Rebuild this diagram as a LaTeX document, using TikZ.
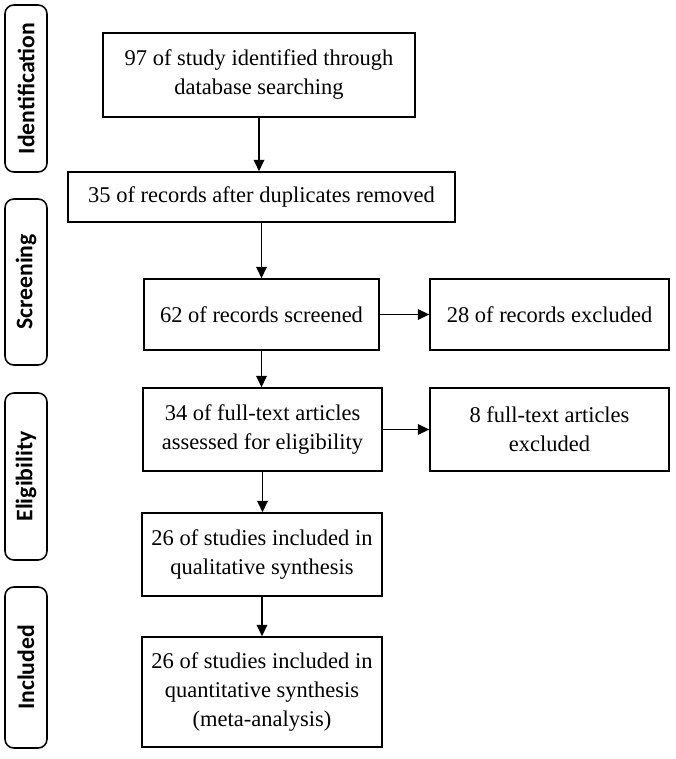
\documentclass[tikz,border=0pt]{standalone}
\usepackage{fontspec}
\setmainfont{Liberation Serif}
\newfontfamily\sidefont{Carlito}
\usetikzlibrary{arrows.meta, positioning}

\begin{document}
\begin{tikzpicture}[
  x=0.02cm, y=-0.02cm,
  box/.style={draw=black, line width=0.9pt, fill=white, align=center, inner sep=2pt,
    font=\fontsize{12.8}{16.5}\selectfont},
  phase/.style={draw=black, line width=0.9pt, rounded corners=5pt, minimum width=0.84cm,
    rotate=90, font=\sidefont\bfseries\fontsize{13.5}{15}\selectfont},
  arr/.style={-{Triangle[length=6.5pt, width=6pt]}, line width=1pt},
]
\useasboundingbox (0,0) rectangle (675,759);

% phases on the left
\node[phase, minimum width=3.34cm, minimum height=0.84cm] (ident) at (26,88.5) {Identification};
\node[phase, minimum width=3.32cm, minimum height=0.84cm] (screen) at (26,282) {Screening};
\node[phase, minimum width=3.34cm, minimum height=0.84cm] (elig) at (26,476.5) {Eligibility};
\node[phase, minimum width=3.22cm, minimum height=0.84cm] (incl) at (26,667.5) {Included};

% main column
\node[box, minimum width=6.24cm, minimum height=1.68cm] (found) at (259,75)
  {97 of study identified through\\database searching};
\node[box, minimum width=7.74cm, minimum height=1.0cm] (dup) at (261.5,197)
  {35 of records after duplicates removed};
\node[box, minimum width=4.7cm, minimum height=1.42cm] (scr) at (261.5,314.5)
  {62 of records screened};
\node[box, minimum width=4.78cm, minimum height=1.42cm] (exc) at (549.5,314.5)
  {28 of records excluded};
\node[box, minimum width=4.78cm, minimum height=1.66cm] (full) at (262.5,429.5)
  {34 of full-text articles\\assessed for eligibility};
\node[box, minimum width=4.78cm, minimum height=1.66cm] (fullexc) at (549.5,429.5)
  {8 full-text articles\\excluded};
\node[box, minimum width=4.8cm, minimum height=1.66cm] (qual) at (262,554.5)
  {26 of studies included in\\qualitative synthesis};
\node[box, minimum width=4.8cm, minimum height=2.2cm] (quant) at (262,692)
  {26 of studies included in\\quantitative synthesis\\(meta-analysis)};

% arrows
\draw[arr] (found.south) -- (found.south |- dup.north);
\draw[arr] (dup.south) -- (dup.south |- scr.north);
\draw[arr] (scr.south) -- (scr.south |- full.north);
\draw[arr] (full.south) -- (full.south |- qual.north);
\draw[arr] (qual.south) -- (qual.south |- quant.north);
\draw[arr] (scr.east) -- (exc.west);
\draw[arr] (full.east) -- (fullexc.west);
\end{tikzpicture}
\end{document}
